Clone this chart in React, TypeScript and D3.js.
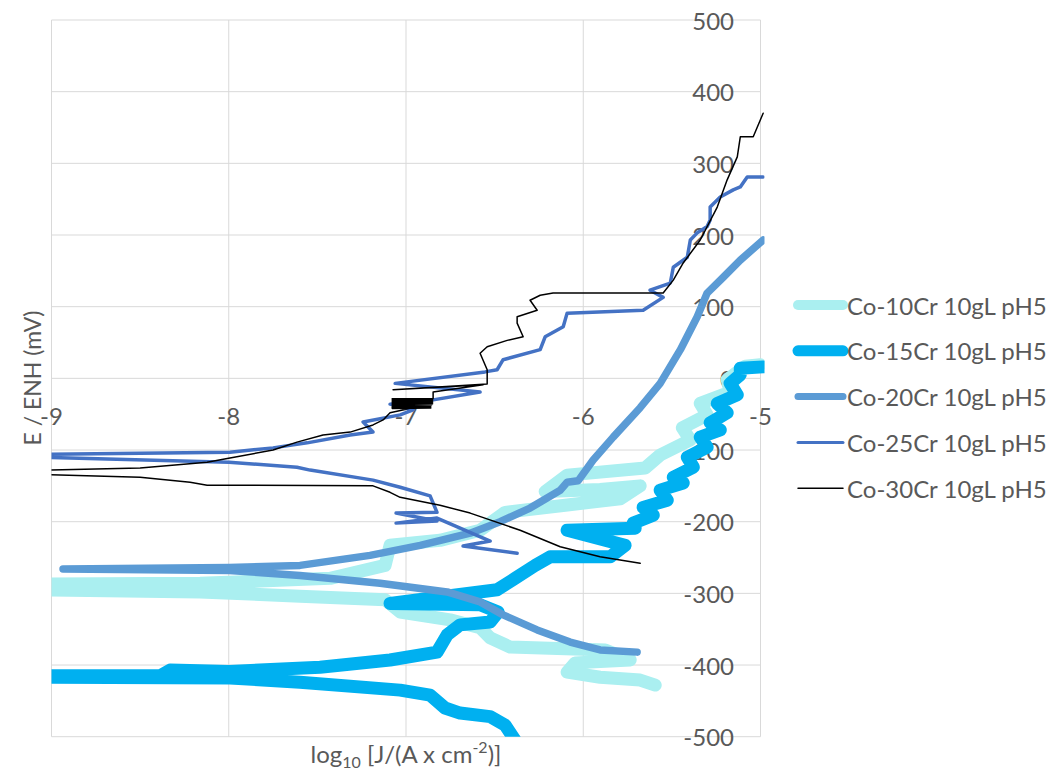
import React from "react";
import * as d3 from "d3";

const W = 1054;
const H = 776;

const xTicks = [-9, -8, -7, -6, -5];
const yTicks = [-500, -400, -300, -200, -100, 0, 100, 200, 300, 400, 500];
const seriesNames = [
  "Co-10Cr 10gL pH5",
  "Co-15Cr 10gL pH5",
  "Co-20Cr 10gL pH5",
  "Co-25Cr 10gL pH5",
  "Co-30Cr 10gL pH5",
];

type P = [number, number];

const co10Cr: P[] = [
  [-5.594, -428], [-5.679, -421], [-5.905, -417], [-6.091, -410], [-6.046, -397],
  [-5.735, -393], [-5.876, -379], [-6.412, -375], [-6.525, -362], [-6.582, -348],
  [-6.751, -337], [-7.033, -326], [-7.118, -309], [-7.598, -304], [-8.162, -298],
  [-9.05, -295], [-9.05, -287], [-8.162, -286], [-7.428, -279], [-7.118, -261],
  [-7.09, -233], [-6.808, -226], [-6.582, -212], [-6.441, -187], [-6.102, -177],
  [-5.791, -168], [-5.679, -150], [-5.905, -155], [-6.215, -158], [-6.091, -135],
  [-5.651, -125], [-5.566, -107], [-5.396, -86], [-5.441, -69], [-5.301, -51],
  [-5.34, -35], [-5.171, -19], [-5.188, -2], [-5.086, 17], [-5.002, 19],
];

const co15Cr: P[] = [
  [-6.384, -505], [-6.441, -484], [-6.525, -472], [-6.695, -467], [-6.78, -460],
  [-6.864, -442], [-7.033, -435], [-7.598, -424], [-7.993, -418], [-9.05, -417],
  [-9.05, -415], [-8.388, -415], [-8.331, -407], [-7.998, -409], [-7.485, -403],
  [-7.09, -393], [-6.825, -382], [-6.768, -358], [-6.695, -344], [-6.525, -340],
  [-6.48, -326], [-6.582, -316], [-7.09, -314], [-6.808, -305], [-6.486, -295],
  [-6.384, -279], [-6.271, -261], [-6.187, -249], [-5.848, -249], [-5.764, -233],
  [-6.091, -212], [-5.707, -209], [-5.718, -202], [-5.605, -191], [-5.662, -180],
  [-5.526, -170], [-5.566, -156], [-5.436, -146], [-5.492, -138], [-5.379, -124],
  [-5.413, -110], [-5.301, -96], [-5.34, -82], [-5.227, -72], [-5.284, -62],
  [-5.188, -48], [-5.244, -35], [-5.131, -23], [-5.171, -7], [-5.114, 5],
  [-5.114, 14], [-4.985, 16],
];

const co20Cr: P[] = [
  [-5.696, -382], [-5.905, -379], [-6.074, -368], [-6.26, -351], [-6.452, -330],
  [-6.582, -312], [-6.768, -298], [-7.146, -286], [-7.598, -275], [-7.998, -268],
  [-8.935, -266], [-7.998, -264], [-7.598, -261], [-7.203, -247], [-6.92, -233],
  [-6.638, -216], [-6.469, -200], [-6.3, -181], [-6.13, -156], [-6.091, -145],
  [-6.029, -143], [-5.944, -114], [-5.831, -82], [-5.679, -41], [-5.566, -7],
  [-5.452, 40], [-5.357, 86], [-5.301, 119], [-5.21, 141], [-5.114, 165],
  [-4.985, 193],
];

const co25Cr: P[] = [
  [-6.373, -244], [-6.678, -234], [-6.525, -227], [-6.825, -195], [-7.056, -202],
  [-6.825, -199], [-7.056, -188], [-6.825, -187], [-6.864, -164], [-7.033, -152],
  [-7.186, -142], [-7.541, -128], [-7.615, -124], [-7.998, -117], [-9.05, -110],
  [-9.05, -106], [-7.993, -103], [-7.75, -97], [-7.558, -90], [-7.315, -79],
  [-7.186, -75], [-7.242, -61], [-7.033, -51], [-6.96, -44], [-7.09, -36],
  [-6.847, -30], [-6.582, -19], [-7.061, -7], [-6.554, 9], [-6.486, 12],
  [-6.452, 26], [-6.243, 40], [-6.215, 58], [-6.113, 72], [-6.091, 91],
  [-5.662, 95], [-5.549, 113], [-5.623, 123], [-5.509, 133], [-5.492, 155],
  [-5.413, 169], [-5.396, 193], [-5.357, 203], [-5.301, 212], [-5.284, 221],
  [-5.284, 239], [-5.227, 253], [-5.154, 263], [-5.114, 267], [-5.075, 281],
  [-4.985, 281],
];

const co30Cr: P[] = [
  [-5.679, -258], [-5.905, -249], [-6.13, -235], [-6.356, -212], [-6.638, -188],
  [-6.808, -177], [-7.033, -166], [-7.09, -159], [-7.186, -150], [-8.122, -149],
  [-8.218, -145], [-8.5, -138], [-9.05, -134], [-9.05, -128], [-8.5, -125],
  [-8.122, -117], [-7.993, -111], [-7.75, -100], [-7.615, -89], [-7.468, -79],
  [-7.315, -75], [-7.186, -65], [-7.129, -58], [-7.09, -48], [-6.96, -41],
  [-7.078, -42], [-6.86, -41.5], [-7.078, -40.5], [-6.86, -40], [-7.078, -39],
  [-6.86, -38.5], [-7.078, -37.5], [-6.855, -37], [-7.078, -36], [-6.85, -35.5],
  [-7.078, -34.5], [-6.85, -34], [-7.078, -33], [-6.85, -32.5], [-7.078, -31.5],
  [-6.85, -31], [-7.078, -30], [-6.85, -29.5], [-7.078, -28.5], [-6.847, -28],
  [-6.847, -19], [-6.565, -9], [-7.073, -16], [-6.542, -8], [-6.542, 12],
  [-6.582, 35], [-6.542, 44], [-6.429, 53], [-6.339, 58], [-6.373, 77],
  [-6.373, 86], [-6.26, 95], [-6.3, 109], [-6.243, 116], [-6.17, 119],
  [-5.549, 119], [-5.492, 137], [-5.436, 161], [-5.34, 193], [-5.244, 239],
  [-5.188, 277], [-5.131, 309], [-5.114, 337], [-5.041, 337], [-4.985, 370],
];

const seriesData: P[][] = [co10Cr, co15Cr, co20Cr, co25Cr, co30Cr];
const seriesColors = ["#aaeff0", "#00b0f0", "#5b9bd5", "#4472c4", "#000000"];
const seriesWidths = [13, 13, 7.5, 3.5, 1.5];
const legendWidths = [10, 11, 7, 3, 1.5];

const FONT = "Lato, 'Open Sans', sans-serif";
const TEXT = "#595959";
const GRID = "#d9d9d9";

export default function App() {
  const x = d3.scaleLinear().domain([-9, -5]).range([51.5, 760.5]);
  const y = d3.scaleLinear().domain([-500, 500]).range([736.7, 20]);
  const line = d3
    .line<P>()
    .x((d) => x(d[0]))
    .y((d) => y(d[1]))
    .curve(d3.curveLinear);

  const legendX0 = 798;
  const legendX1 = 847;
  const legendY0 = 305;
  const legendStep = 45.8;

  return (
    <svg
      width={W}
      height={H}
      style={{ position: "absolute", left: 0, top: 0, background: "#fff" }}
      fontFamily={FONT}
    >
      <defs>
        <clipPath id="plotClip">
          <rect x={x(-9)} y={y(500) - 2} width={x(-5) - x(-9) + 4} height={y(-500) - y(500) + 2} />
        </clipPath>
      </defs>
      <rect x={0} y={0} width={W} height={H} fill="#fff" />
      {yTicks.map((t) => (
        <line key={"gy" + t} x1={x(-9)} x2={x(-5)} y1={y(t)} y2={y(t)} stroke={GRID} strokeWidth={1} />
      ))}
      {xTicks.map((t) => (
        <line key={"gx" + t} x1={x(t)} x2={x(t)} y1={y(500)} y2={y(-500)} stroke={GRID} strokeWidth={1} />
      ))}
      {yTicks.map((t) => (
        <text
          key={"ly" + t}
          x={734}
          y={y(t)}
          textAnchor="end"
          dominantBaseline="central"
          fontSize={24}
          fill={TEXT}
        >
          {t}
        </text>
      ))}
      {xTicks.map((t) => (
        <text
          key={"lx" + t}
          x={x(t)}
          y={y(0) + 37}
          textAnchor="middle"
          dominantBaseline="central"
          fontSize={24}
          fill={TEXT}
        >
          {t}
        </text>
      ))}
      <g clipPath="url(#plotClip)">
        {seriesData.map((s, i) => (
          <path
            key={"s" + i}
            d={line(s) || ""}
            fill="none"
            stroke={seriesColors[i]}
            strokeWidth={seriesWidths[i]}
            strokeLinecap="round"
            strokeLinejoin="round"
          />
        ))}
      </g>
      <text x={406} y={763} textAnchor="middle" fontSize={24} fill={TEXT}>
        log
        <tspan fontSize={16} dy={5}>10</tspan>
        <tspan dy={-5}> [J/(A x cm</tspan>
        <tspan fontSize={16} dy={-10}>-2</tspan>
        <tspan dy={10}>)]</tspan>
      </text>
      <text
        transform={`translate(41, ${378}) rotate(-90)`}
        textAnchor="middle"
        fontSize={23}
        fill={TEXT}
      >
        E / ENH (mV)
      </text>
      {seriesNames.map((n, i) => (
        <g key={"lg" + i}>
          <line
            x1={legendX0}
            x2={legendX1 - 4}
            y1={legendY0 + i * legendStep}
            y2={legendY0 + i * legendStep}
            stroke={seriesColors[i]}
            strokeWidth={legendWidths[i]}
            strokeLinecap="round"
          />
          <text
            x={legendX1}
            y={legendY0 + i * legendStep}
            dominantBaseline="central"
            fontSize={24}
            fill={TEXT}
          >
            {n}
          </text>
        </g>
      ))}
    </svg>
  );
}
